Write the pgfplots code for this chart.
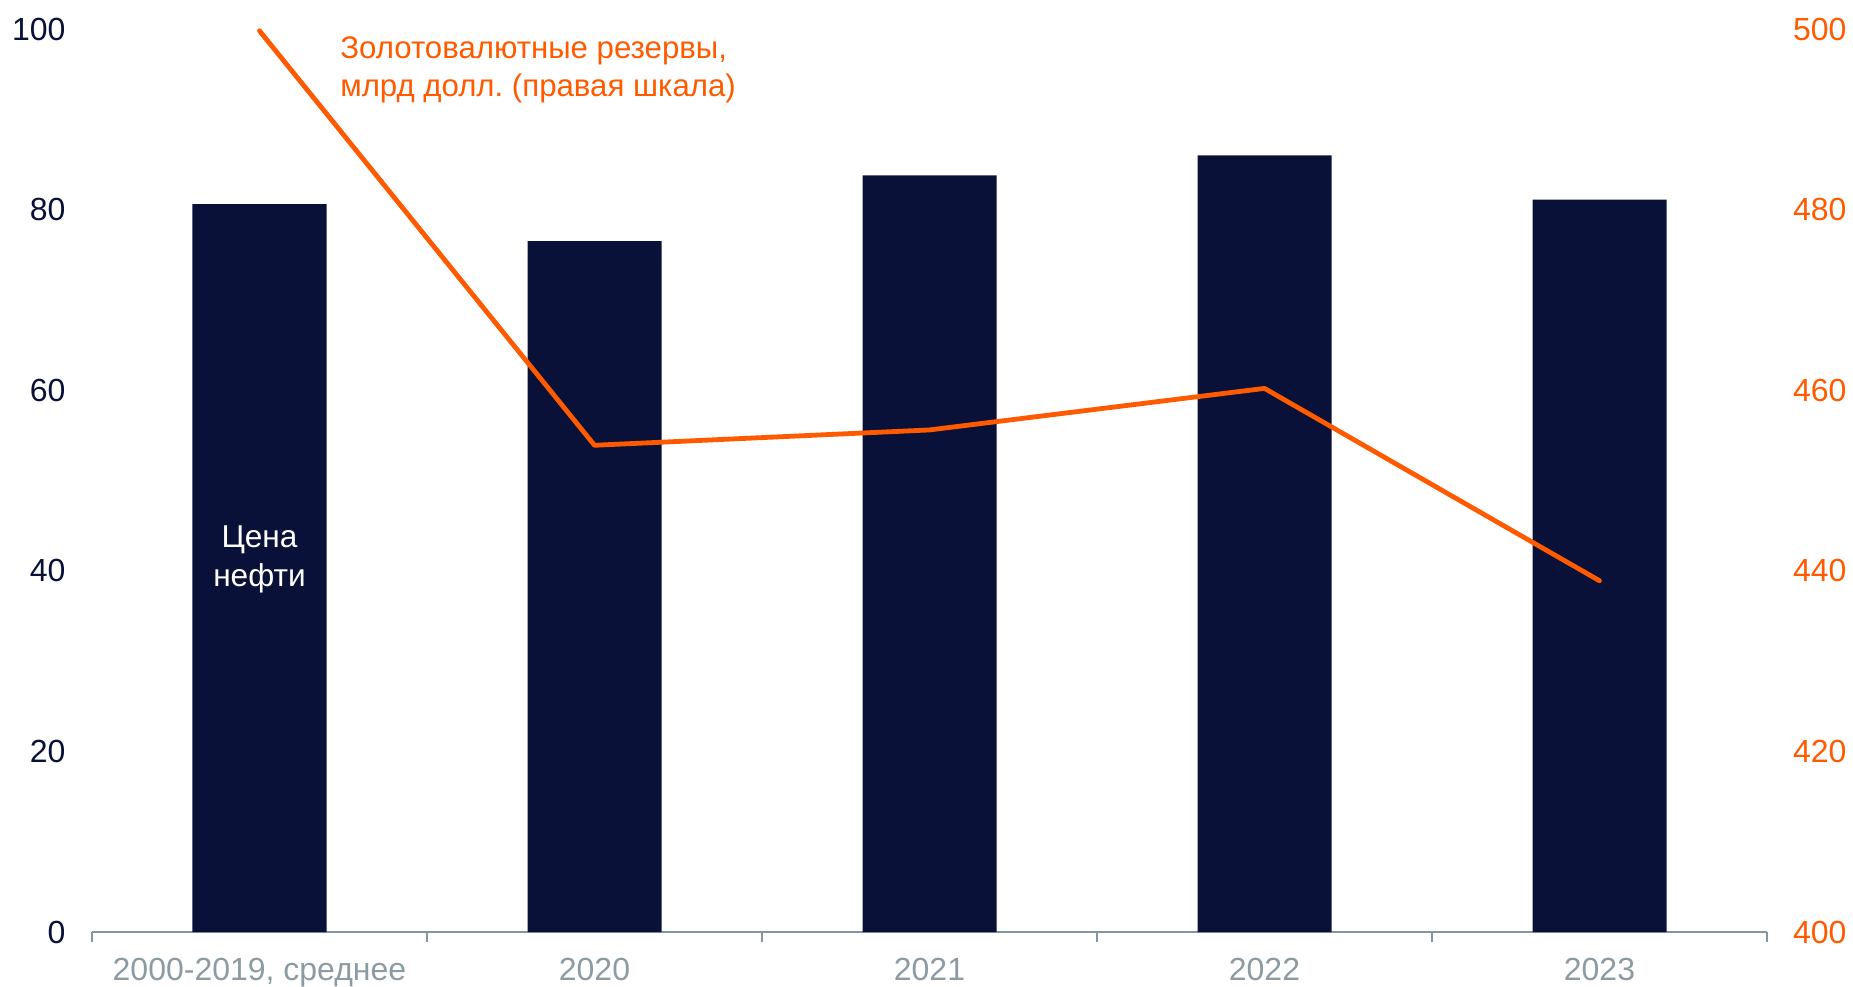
\documentclass[border=0pt]{standalone}
\usepackage{pgfplots}
\pgfplotsset{compat=1.18}
\usepackage{fontspec}
\setmainfont{Liberation Sans}
\definecolor{navy}{HTML}{0A1139}
\definecolor{orng}{HTML}{FF5A00}
\definecolor{axgray}{HTML}{8497A0}
\definecolor{lblgray}{HTML}{8C9BA3}
\pgfplotstableread{
x price
0 80.6
1 76.5
2 83.8
3 86.0
4 81.1
}\oil
\pgfplotstableread{
x res
0 499.8
1 453.9
2 455.6
3 460.2
4 438.9
}\reserves
\begin{document}
\frenchspacing
\begin{tikzpicture}
\pgfplotsset{
  every axis/.append style={
    scale only axis, width=837.5pt, height=451.5pt,
    xmin=-0.5, xmax=4.5,
    font=\fontsize{16}{19}\selectfont,
    /pgf/number format/assume math mode=true,
    clip=false,
  }
}
\begin{axis}[
  ymin=0, ymax=100,
  axis x line*=bottom, axis y line*=left,
  y axis line style={draw=none},
  x axis line style={draw=axgray, line width=1pt},
  xtick={0,1,2,3,4},
  xticklabels={{2000-2019, среднее},2020,2021,2022,2023},
  major x tick style={draw=none},
  minor xtick={-0.5,0.5,1.5,2.5,3.5,4.5},
  minor x tick style={draw=axgray, line width=1pt},
  minor tick length=5pt,
  tick align=outside,
  x tick label style={text=lblgray, yshift=-5.5pt},
  ytick={0,20,40,60,80,100},
  ytick style={draw=none},
  y tick label style={text=navy, xshift=-5.5pt},
]
\addplot[ybar, bar width=0.4, fill=navy, draw=none] table[x=x,y=price]{\oil};
\node[text=white, align=center, font=\fontsize{15.8}{19.5}\selectfont] at (axis cs:0,41.3) {Цена\\нефти};
\node[text=orng, align=left, anchor=north west, inner sep=0pt, font=\fontsize{15.6}{19}\selectfont] at (axis cs:0.24,99.2) {Золотовалютные резервы,\\млрд долл. (правая шкала)};
\end{axis}
\begin{axis}[
  ymin=400, ymax=500,
  axis x line=none, axis y line*=right,
  y axis line style={draw=none},
  ytick={400,420,440,460,480,500},
  ytick style={draw=none},
  y tick label style={text=orng, xshift=9.5pt},
]
\addplot[orng, line width=2.4pt, line cap=round, line join=round] table[x=x,y=res]{\reserves};
\end{axis}
\pgfresetboundingbox
\path (-46pt,-27pt) rectangle (880.5pt,466pt);
\end{tikzpicture}
\end{document}
